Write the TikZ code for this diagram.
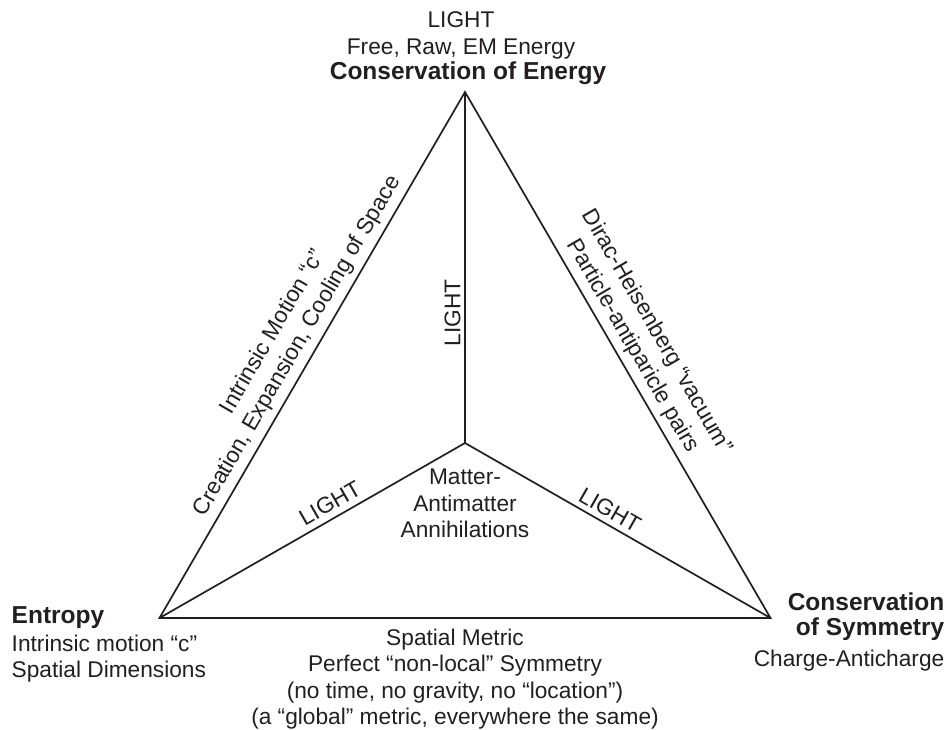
\documentclass[tikz,border=0pt]{standalone}
\usepackage{fontspec}
\setmainfont{Liberation Sans}
\definecolor{ink}{HTML}{231F20}
\newcommand\regfont{\fontsize{22.7}{26.5}\selectfont}
\newcommand\edgefont{\fontsize{22.7}{28}\selectfont}
\newcommand\boldfont{\fontsize{24.5}{25}\selectfont\bfseries}
\begin{document}
\begin{tikzpicture}[x=1pt,y=-1pt,
  edge/.style={draw=ink, line width=1.7pt, line join=miter},
  txt/.style={text=ink, font=\regfont, inner sep=0pt, align=center},
  etxt/.style={text=ink, font=\edgefont, inner sep=0pt, align=center},
  bold/.style={text=ink, font=\boldfont, inner sep=0pt}]
\useasboundingbox (0,0) rectangle (950,730);
% vertices
\coordinate (T) at (465,92);
\coordinate (L) at (159.5,618);
\coordinate (R) at (770.5,618);
\coordinate (J) at (465,443);
% triangle and inner lines
\draw[edge] (T) -- (L) -- (R) -- cycle;
\draw[edge] (T) -- (J);
\draw[edge] (L) -- (J) -- (R);
% top vertex label
\node[txt, anchor=north] (toptxt) at (461,11.8) {LIGHT\\Free, Raw, EM Energy};
\node[bold, anchor=base] (toptitle) at (468,80) {Conservation of Energy};
% left vertex label
\node[bold, anchor=base west] (lefttitle) at (11.5,623) {Entropy};
\node[txt, align=left, anchor=north west] (lefttxt) at (11.5,634.7) {Intrinsic motion “c”\\Spatial Dimensions};
% right vertex label
\node[bold, align=right, anchor=north east] (righttitle) at (944.5,592.5) {Conservation\\of Symmetry};
\node[txt, anchor=base east] (righttxt) at (944.5,666) {Charge-Anticharge};
% bottom label
\node[txt, anchor=north] (bottomtxt) at (455,628.7) {Spatial Metric\\Perfect “non-local” Symmetry\\(no time, no gravity, no “location”)\\(a “global” metric, everywhere the same)};
% centre label
\node[txt, anchor=north] (centretxt) at (465,468.7) {Matter-\\Antimatter\\Annihilations};
% edge labels
\node[etxt, rotate=59.86] (leftedge) at (285.5,339) {Intrinsic Motion “c”\\Creation, Expansion, Cooling of Space};
\node[etxt, rotate=-59.86] (rightedge) at (644.5,339) {Dirac-Heisenberg “vacuum”\\Particle-antiparicle pairs};
\node[txt, rotate=90] (vlight) at (452.5,313) {LIGHT};
\node[txt, rotate=29.8] (llight) at (330,503) {LIGHT};
\node[txt, rotate=-29.8] (rlight) at (610,510) {LIGHT};
\end{tikzpicture}
\end{document}
